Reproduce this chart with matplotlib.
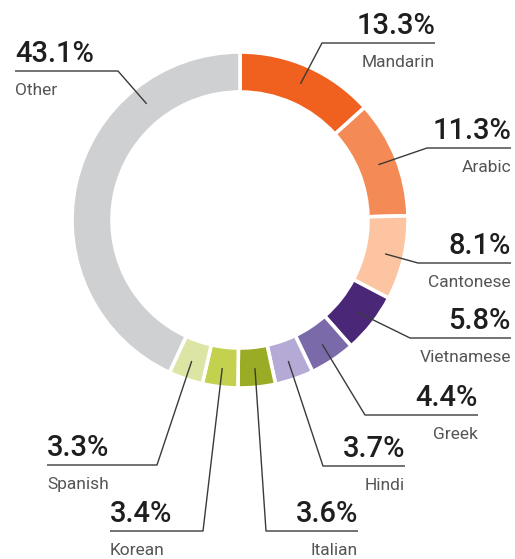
import numpy as np
import matplotlib
matplotlib.use("Agg")
import matplotlib.pyplot as plt

# Share of speakers by language (percent)
languages = ["Mandarin", "Arabic", "Cantonese", "Vietnamese", "Greek",
             "Hindi", "Italian", "Korean", "Spanish", "Other"]
shares = [13.3, 11.3, 8.1, 5.8, 4.4, 3.7, 3.6, 3.4, 3.3, 43.1]
pct_labels = ["13.3%", "11.3%", "8.1%", "5.8%", "4.4%",
              "3.7%", "3.6%", "3.4%", "3.3%", "43.1%"]

colors = ["#f0601f", "#f48a55", "#fcc4a0", "#4a2877", "#7b6aa9",
          "#b5a9d6", "#9aac26", "#c3d14f", "#dce5a4", "#cfd0d2"]

# Label layout in pixel space (y measured from the top of the figure):
# side, text edge x, elbow x, y of the underline, position along wedge for leader
label_layout = {
    "Mandarin":   ("right", 435, 322, 43, 0.5),
    "Arabic":     ("right", 511, 427, 148, 0.5),
    "Cantonese":  ("right", 511, 418, 263, 0.5),
    "Vietnamese": ("right", 511, 410, 338, 0.5),
    "Greek":      ("right", 478, 365, 415, 0.5),
    "Hindi":      ("right", 405, 323, 466, 0.5),
    "Italian":    ("right", 358, 266, 531, 0.5),
    "Korean":     ("left", 110, 203, 531, 0.5),
    "Spanish":    ("left", 47, 157, 465, 0.5),
    "Other":      ("left", 15, 118, 71, 0.75),
}

W, H = 515, 559
fig = plt.figure(figsize=(W / 100, H / 100), dpi=100)
fig.patch.set_facecolor("white")
ax = fig.add_axes([0, 0, 1, 1])

cx, cy_top = 240, 220
cy = H - cy_top
R_out, ring = 168, 40

ax.pie(shares, colors=colors, startangle=90, counterclock=False,
       radius=R_out, center=(cx, cy),
       wedgeprops=dict(width=ring, edgecolor="white", linewidth=2.6))
ax.set_xlim(0, W)
ax.set_ylim(0, H)
ax.set_aspect("equal")
ax.axis("off")

font = "Roboto"
line_col = "#3a3a3a"
r_mid = R_out - ring / 2 + 1

cum = np.concatenate([[0], np.cumsum(shares)]) / sum(shares)
for i, name in enumerate(languages):
    side, x_edge, x_elbow, y_line_px, frac = label_layout[name]
    y_line = H - y_line_px
    # leader anchor on the ring
    f = cum[i] + frac * (cum[i + 1] - cum[i])
    theta = 2 * np.pi * f  # clockwise from top
    ax_x = cx + r_mid * np.sin(theta)
    ax_y = cy + r_mid * np.cos(theta)
    ax.plot([ax_x, x_elbow, x_edge], [ax_y, y_line, y_line],
            color=line_col, lw=1.0, solid_capstyle="butt", zorder=5)
    ha = "right" if side == "right" else "left"
    ax.text(x_edge, y_line + 9, pct_labels[i], ha=ha, va="baseline",
            fontsize=21, fontfamily=font, fontweight="medium", color="#1e1e1e")
    ax.text(x_edge, y_line - 24, name, ha=ha, va="baseline",
            fontsize=12.5, fontfamily=font, color="#555555")

fig.savefig("out.png", dpi=100, facecolor="white")
